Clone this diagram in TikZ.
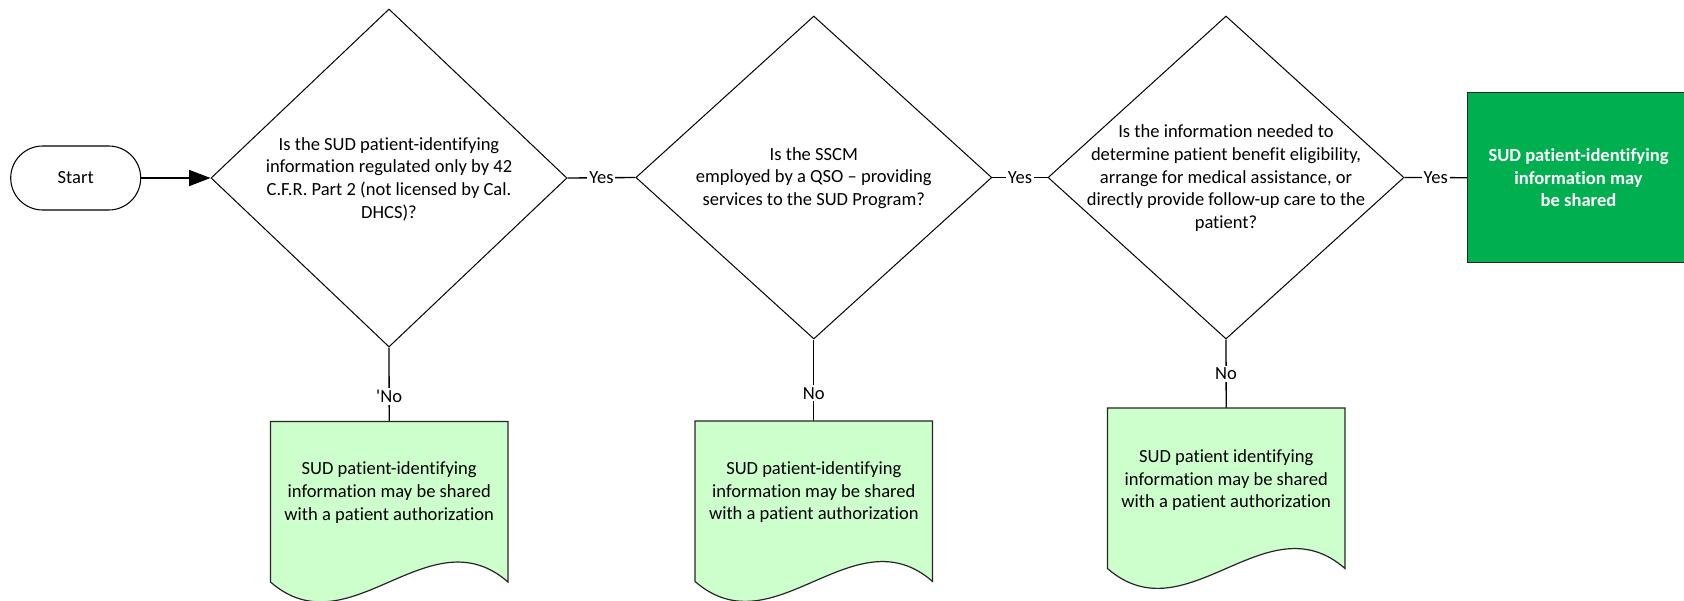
\documentclass[tikz,border=0pt]{standalone}
\usepackage{fontspec}
\setmainfont{Carlito}[Ligatures={TeX,NoCommon}]
\usetikzlibrary{shapes.geometric,arrows.meta,calc}
\definecolor{docgreen}{HTML}{CCFFCC}
\definecolor{boxgreen}{HTML}{00B050}
\definecolor{shadowblue}{HTML}{C9D8EF}
\tikzset{
  basefont/.style={font=\fontsize{13.9pt}{17pt}\selectfont},
  startbox/.style={draw, line width=0.8pt, rounded corners=24pt, minimum width=97.5pt, minimum height=48pt, inner sep=0pt, basefont},
  decision/.style={draw, line width=0.75pt, diamond, inner sep=0pt, minimum width=267pt, minimum height=#1},
  qtext/.style={align=center, basefont, inner sep=0pt},
  endbox/.style={draw=black!85, line width=1pt, fill=boxgreen, text=white, minimum width=166.5pt, minimum height=127.5pt, inner sep=0pt, align=center, font={\fontsize{13.9pt}{17pt}\selectfont\bfseries}},
  docnode/.style={minimum width=177.75pt, minimum height=120pt, inner sep=0pt},
  conn/.style={draw, line width=1pt},
  lbl/.style={fill=white, inner sep=1.5pt, basefont}
}
\newcommand\drawdoc[1]{%
  \fill[shadowblue, yshift=-3pt] (#1.north west) -- (#1.north east) -- (#1.south east) .. controls +(-79,-69) and +(79,69) .. (#1.south west) -- cycle;
  \filldraw[fill=docgreen, draw=black!85, line width=0.9pt] (#1.north west) -- (#1.north east) -- (#1.south east) .. controls +(-79,-69) and +(79,69) .. (#1.south west) -- cycle;
}
\begin{document}
\begin{tikzpicture}[x=0.75pt,y=-0.75pt]
\useasboundingbox (0,0) rectangle (1684,600);

% nodes
\node[startbox] (start) at (75.7,178) {Start};
\node[decision=253.5pt] (d1) at (389,178) {};
\node[decision=242.25pt] (d2) at (813.8,177.5) {};
\node[decision=242.25pt] (d3) at (1226,177.5) {};
\node[qtext] (d1t) at (389,179) {Is the SUD patient-identifying\\information regulated only by 42\\C.F.R. Part 2 (not licensed by Cal.\\DHCS)?};
\node[qtext] (d2t) at (813.8,178) {Is the SSCM\\employed by a QSO – providing\\services to the SUD Program?};
\node[qtext] (d3t) at (1226,178.3) {Is the information needed to\\determine patient benefit eligibility,\\arrange for medical assistance, or\\directly provide follow-up care to the\\patient?};
\node[endbox] (ok) at (1578.5,177.7) {SUD patient-identifying\\information may\\be shared};

\node[docnode] (n1) at (389.2,501.7) {};
\node[docnode] (n2) at (813.8,501.2) {};
\node[docnode] (n3) at (1226.2,488.2) {};

% connectors
\draw[conn, -{Triangle[length=16pt,width=12pt]}] (start.east) -- (d1.west);
\draw[conn] (d1.east) -- node[lbl] (y1) {Yes} (d2.west);
\draw[conn] (d2.east) -- node[lbl] (y2) {Yes} (d3.west);
\draw[conn] (d3.east) -- node[lbl] (y3) {Yes} (ok.west);
\draw[conn] (d1.south) -- node[lbl, pos=0.66] (no1) {\textquotesingle No} (n1.north);
\draw[conn] (d2.south) -- node[lbl, pos=0.66] (no2) {No} (n2.north);
\draw[conn] (d3.south) -- node[lbl, pos=0.5] (no3) {No} (n3.north);

% documents
\drawdoc{n1}
\drawdoc{n2}
\drawdoc{n3}
\node[qtext] (n1t) at ($(n1)+(0,-9)$) {SUD patient-identifying\\information may be shared\\with a patient authorization};
\node[qtext] (n2t) at ($(n2)+(0,-9)$) {SUD patient-identifying\\information may be shared\\with a patient authorization};
\node[qtext] (n3t) at ($(n3)+(0,-8)$) {SUD patient identifying\\information may be shared\\with a patient authorization};
\end{tikzpicture}
\end{document}
